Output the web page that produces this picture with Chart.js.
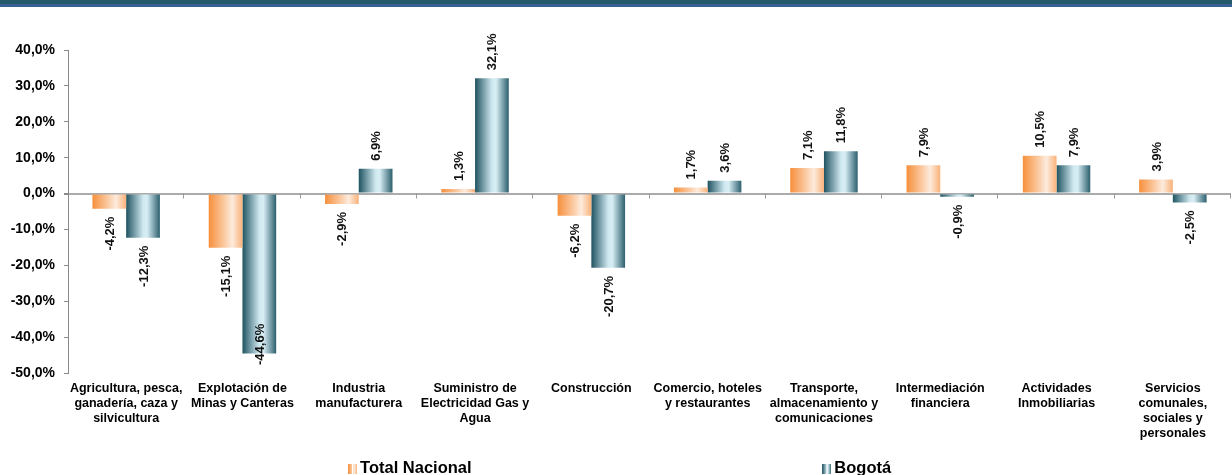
<!DOCTYPE html>
<html>
<head>
<meta charset="utf-8">
<script src="https://cdn.jsdelivr.net/npm/chart.js@4.4.0/dist/chart.umd.min.js"></script>
<style>
  html, body { margin: 0; padding: 0; background: #fff; }
  #wrap { position: relative; width: 1232px; height: 475px; }
  #band { position: absolute; left: 0; top: 0; width: 1232px; height: 4px; background: #245a6b; border-bottom: 3px solid #3b6092; }
</style>
</head>
<body>
<div id="wrap">
  <canvas id="pibChart"></canvas>
  <div id="band"></div>
</div>
<script>
const ctx = document.getElementById('pibChart').getContext('2d');

// Data
const categories = [
  ['Agricultura, pesca,', 'ganadería, caza y', 'silvicultura'],
  ['Explotación de', 'Minas y Canteras'],
  ['Industria', 'manufacturera'],
  ['Suministro de', 'Electricidad Gas y', 'Agua'],
  ['Construcción'],
  ['Comercio, hoteles', 'y restaurantes'],
  ['Transporte,', 'almacenamiento y', 'comunicaciones'],
  ['Intermediación', 'financiera'],
  ['Actividades', 'Inmobiliarias'],
  ['Servicios', 'comunales,', 'sociales y', 'personales'],
];
const seriesNames = ['Total Nacional', 'Bogotá'];
const totalNacional = [-4.2, -15.1, -2.9, 1.3, -6.2, 1.7, 7.1, 7.9, 10.5, 3.9];
const bogota = [-12.3, -44.6, 6.9, 32.1, -20.7, 3.6, 11.8, -0.9, 7.9, -2.5];
const yTicks = [40, 30, 20, 10, 0, -10, -20, -30, -40, -50];

const CAT_PCT = 0.58;
const FONT = 'Arial, "Liberation Sans", sans-serif';

const orangeStops = [[0, '#f68f3c'], [0.45, '#fbc9a0'], [0.7, '#fdebdd'], [1, '#f9b27a']];
const blueStops = [[0, '#1f5361'], [0.5, '#cfe8f0'], [0.62, '#d8eef5'], [1, '#2c5f6d']];

function fmt(v) {
  return v.toFixed(1).replace('.', ',') + '%';
}

// horizontal gradient across each bar, built from the x scale
function barGradient(stops, side) {
  return function (c) {
    const chart = c.chart;
    const xs = chart.scales.x;
    if (!xs || c.dataIndex === undefined || !chart.chartArea) return stops[0][1];
    const center = xs.getPixelForValue(c.dataIndex);
    const half = (xs.width / categories.length) * CAT_PCT / 2;
    const x0 = side === 0 ? center - half : center;
    const x1 = side === 0 ? center : center + half;
    if (!isFinite(x0) || !isFinite(x1) || x1 <= x0) return stops[0][1];
    const g = chart.ctx.createLinearGradient(x0, 0, x1, 0);
    stops.forEach((s) => g.addColorStop(s[0], s[1]));
    return g;
  };
}

function legendIcon(stops) {
  const cv = document.createElement('canvas');
  cv.width = 9;
  cv.height = 10;
  const c = cv.getContext('2d');
  const g = c.createLinearGradient(0, 0, 9, 0);
  stops.forEach((s) => g.addColorStop(s[0], s[1]));
  c.fillStyle = g;
  c.fillRect(0, 0, 4, 10);
  c.fillRect(5, 0, 4, 10);
  return cv;
}

// rotated value labels above / below each bar
const valueLabels = {
  id: 'valueLabels',
  afterDatasetsDraw(chart) {
    const c = chart.ctx;
    const area = chart.chartArea;
    c.save();
    c.font = 'bold 13px ' + FONT;
    c.fillStyle = '#111';
    c.textBaseline = 'middle';
    chart.data.datasets.forEach((ds, di) => {
      chart.getDatasetMeta(di).data.forEach((el, i) => {
        const v = ds.data[i];
        const txt = fmt(v);
        const w = c.measureText(txt).width;
        let start;
        if (v >= 0) {
          start = el.y - 8;
        } else {
          start = Math.min(el.y + 8 + w, area.bottom - 8);
        }
        c.save();
        c.translate(el.x + 1, start);
        c.rotate(-Math.PI / 2);
        c.textAlign = 'left';
        c.fillText(txt, 0, 0);
        c.restore();
      });
    });
    c.restore();
  },
};

// small tick marks on the zero line between categories
const zeroTicks = {
  id: 'zeroTicks',
  beforeDatasetsDraw(chart) {
    const xs = chart.scales.x;
    const y0 = chart.scales.y.getPixelForValue(0);
    const c = chart.ctx;
    c.save();
    c.strokeStyle = '#9a9a9a';
    c.lineWidth = 1;
    for (let i = 1; i <= categories.length; i++) {
      const x = Math.round(xs.getPixelForValue(i - 0.5)) - 0.5;
      c.beginPath();
      c.moveTo(x, y0);
      c.lineTo(x, y0 + 5);
      c.stroke();
    }
    c.restore();
  },
};

// legend drawn with wide spacing like the original
const spacedLegend = {
  id: 'spacedLegend',
  afterDraw(chart) {
    const c = chart.ctx;
    const icons = [legendIcon(orangeStops), legendIcon(blueStops)];
    const xs = [chart.width * 0.2825, chart.width * 0.6675];
    c.save();
    c.font = 'bold 16.5px ' + FONT;
    c.fillStyle = '#000';
    c.textBaseline = 'alphabetic';
    c.textAlign = 'left';
    seriesNames.forEach((name, i) => {
      c.drawImage(icons[i], xs[i], 464);
      c.fillText(name, xs[i] + 12, 473);
    });
    c.restore();
  },
};

const pibChart = new Chart(ctx, {
  type: 'bar',
  data: {
    labels: categories,
    datasets: [
      {
        label: seriesNames[0],
        data: totalNacional,
        backgroundColor: barGradient(orangeStops, 0),
        borderWidth: 0,
        categoryPercentage: CAT_PCT,
        barPercentage: 1,
      },
      {
        label: seriesNames[1],
        data: bogota,
        backgroundColor: barGradient(blueStops, 1),
        borderWidth: 0,
        categoryPercentage: CAT_PCT,
        barPercentage: 1,
      },
    ],
  },
  options: {
    responsive: true,
    maintainAspectRatio: false,
    animation: false,
    layout: { padding: { top: 50, right: 1, left: 0, bottom: 0 } },
    plugins: {
      legend: { display: false },
      tooltip: { enabled: false },
    },
    scales: {
      x: {
        grid: { display: false, drawTicks: false },
        border: { display: false },
        ticks: {
          color: '#000',
          font: { family: FONT, size: 12.5, weight: 'bold', lineHeight: '15px' },
          padding: 8,
          maxRotation: 0,
          autoSkip: false,
        },
        afterFit(scale) { scale.height = 102; },
      },
      y: {
        min: -50,
        max: 40,
        afterBuildTicks(scale) {
          scale.ticks = yTicks.map((v) => ({ value: v }));
        },
        grid: {
          color: (c) => (c.tick && c.tick.value === 0 ? '#ababab' : 'rgba(0,0,0,0)'),
          lineWidth: (c) => (c.tick && c.tick.value === 0 ? 2 : 1),
          tickColor: '#8a8a8a',
          tickLength: 4,
        },
        border: { display: true, color: '#8a8a8a', width: 1 },
        ticks: {
          color: '#000',
          font: { family: FONT, size: 14, weight: 'bold' },
          padding: 9,
          callback: (v) => fmt(v),
        },
        afterFit(scale) { scale.width = 68; },
      },
    },
  },
  plugins: [zeroTicks, valueLabels, spacedLegend],
});
</script>
</body>
</html>
